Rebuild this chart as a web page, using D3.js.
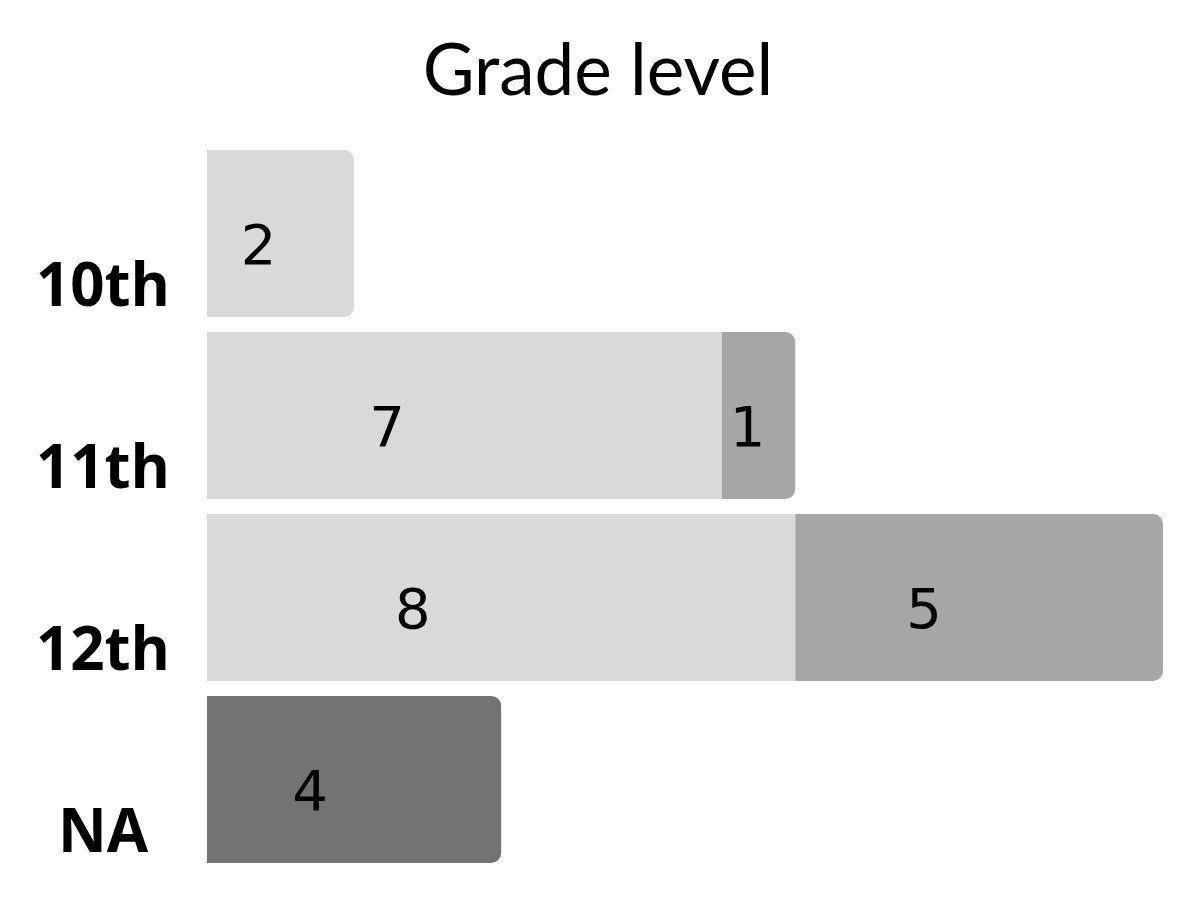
<!DOCTYPE html>
<html>
<head>
<meta charset="utf-8">
<script src="https://cdn.jsdelivr.net/npm/d3@7/dist/d3.min.js"></script>
<style>
  html, body { margin: 0; padding: 0; background: #ffffff; }
  svg { display: block; }
</style>
</head>
<body>
<svg id="chart" width="1200" height="900"></svg>
<script>
// ---- data ----
const title = "Grade level";
const categories = ["10th", "11th", "12th", "NA"];
const seriesNames = ["light", "medium", "dark"];
const lightValues  = [2, 7, 8, 0];
const mediumValues = [0, 1, 5, 0];
const darkValues   = [0, 0, 0, 4];
const seriesColors = ["#d9d9d9", "#a6a6a6", "#737373"];
const xMax = 13;

// ---- build table ----
const table = categories.map((c, i) => ({
  cat: c,
  light: lightValues[i],
  medium: mediumValues[i],
  dark: darkValues[i]
}));
const stacked = d3.stack().keys(seriesNames)(table);

const svg = d3.select("#chart");
const W = 1200, H = 900;
svg.append("rect").attr("width", W).attr("height", H).attr("fill", "#ffffff");

const x = d3.scaleLinear().domain([0, xMax]).range([207, 1163]);
const y = d3.scaleBand().domain(categories).range([150, 863]).paddingInner(0.082).paddingOuter(0);
const color = d3.scaleOrdinal().domain(seriesNames).range(seriesColors);

const totals = table.map(d => d.light + d.medium + d.dark);
const r = 10;

function segPath(x0, x1, y0, h, roundRight) {
  const w = x1 - x0;
  if (!roundRight) {
    return `M${x0},${y0}H${x1}V${y0 + h}H${x0}Z`;
  }
  const rr = Math.min(r, w / 2, h / 2);
  return `M${x0},${y0}H${x1 - rr}A${rr},${rr} 0 0 1 ${x1},${y0 + rr}` +
         `V${y0 + h - rr}A${rr},${rr} 0 0 1 ${x1 - rr},${y0 + h}H${x0}Z`;
}

const g = svg.append("g");
stacked.forEach(layer => {
  layer.forEach((seg, i) => {
    const v = seg[1] - seg[0];
    if (v <= 0) return;
    const cat = categories[i];
    const isLast = seg[1] === totals[i];
    g.append("path")
      .attr("d", segPath(x(seg[0]), x(seg[1]), y(cat), y.bandwidth(), isLast))
      .attr("fill", color(layer.key));
    const x0 = x(seg[0]), x1 = x(seg[1]);
    g.append("text")
      .attr("x", x0 + (x1 - x0) * 0.35)
      .attr("y", y(cat) + y.bandwidth() / 2 + 10)
      .attr("dy", "0.36em")
      .attr("text-anchor", "middle")
      .attr("font-family", "'DejaVu Sans', sans-serif")
      .attr("font-weight", 400)
      .attr("font-size", 56)
      .attr("fill", "#000000")
      .text(v);
  });
});

// category labels (y axis, no line/ticks)
const yAxis = svg.append("g")
  .attr("transform", "translate(103,0)")
  .call(d3.axisLeft(y).tickSize(0).tickPadding(0));
yAxis.select(".domain").remove();
yAxis.selectAll(".tick").attr("transform", d => `translate(0,${y(d) + y.bandwidth() * 0.935})`);
yAxis.selectAll(".tick text")
  .attr("x", 0)
  .attr("dy", 0)
  .attr("text-anchor", "middle")
  .attr("font-family", "'Open Sans', 'Liberation Sans', sans-serif")
  .attr("font-weight", 700)
  .attr("font-size", 60)
  .attr("fill", "#000000");

// title
svg.append("text")
  .attr("x", 598)
  .attr("y", 95)
  .attr("text-anchor", "middle")
  .attr("font-family", "Lato, sans-serif")
  .attr("font-weight", 400)
  .attr("font-size", 71)
  .attr("fill", "#000000")
  .text(title);
</script>
</body>
</html>
